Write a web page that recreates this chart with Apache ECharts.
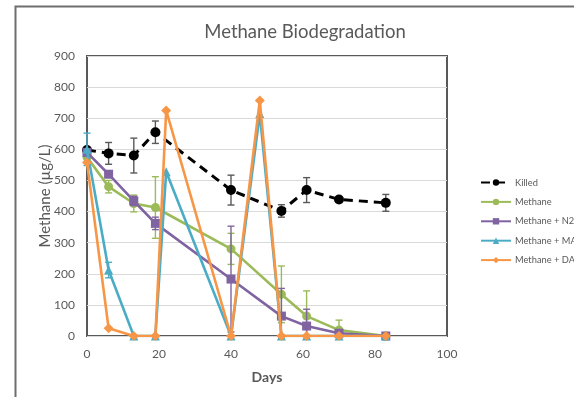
<!DOCTYPE html>
<html>
<head>
<meta charset="utf-8">
<script src="https://cdn.jsdelivr.net/npm/echarts@6/dist/echarts.min.js"></script>
<style>
  html, body { margin: 0; padding: 0; background: #ffffff; }
  #chart { width: 574px; height: 397px; }
</style>
</head>
<body>
<div id="chart"></div>
<script>
// Sampling days
const daysA = [0, 6, 13, 19, 40, 54, 61, 70, 83];
const daysB = [0, 6, 13, 19, 22, 40, 48, 54, 61, 70, 83];

// Methane concentration (µg/L) and standard deviations
const killed     = [598, 587, 580, 655, 469, 402, 469, 439, 428];
const killedErr  = [0, 35, 56, 36, 48, 20, 40, 0, 27];
const methane    = [575, 480, 426, 413, 280, 134, 64, 19, 0];
const methaneErr = [0, 20, 27, 99, 50, 91, 81, 32, 0];
const n2o        = [590, 520, 434, 362, 183, 64, 32, 9, 0];
const n2oErr     = [0, 10, 15, 20, 170, 89, 54, 10, 0];
const ma         = [600, 212, 0, 0, 528, 0, 715, 0, 0, 0, 0];
const maErr      = [52, 25, 0, 0, 0, 0, 0, 0, 0, 0, 0];
const dap        = [558, 25, 0, 0, 725, 0, 757, 0, 0, 0, 0];

const names = ['Killed', 'Methane', 'Methane + N2O', 'Methane + MA', 'Methane + DAP'];
const colors = ['#000000', '#9BBB59', '#8064A2', '#4BACC6', '#F79646'];

const FONT = 'Lato, "Liberation Sans", sans-serif';
const GRAY = '#595959';

function pairs(xs, ys) { return xs.map((x, i) => [x, ys[i]]); }

function errorBars(name, xs, ys, errs, color, z) {
  return {
    name: name + ' error',
    type: 'custom',
    z: z,
    silent: true,
    data: xs.map((x, i) => [x, ys[i], errs[i]]).filter(d => d[2] > 0),
    renderItem: function (params, api) {
      const x = api.value(0), y = api.value(1), e = api.value(2);
      const top = api.coord([x, y + e]);
      const bot = api.coord([x, Math.max(0, y - e)]);
      const w = 3.5;
      const style = { stroke: color, lineWidth: 1.4 };
      return {
        type: 'group',
        children: [
          { type: 'line', shape: { x1: top[0], y1: top[1], x2: bot[0], y2: bot[1] }, style: style },
          { type: 'line', shape: { x1: top[0] - w, y1: top[1], x2: top[0] + w, y2: top[1] }, style: style },
          { type: 'line', shape: { x1: bot[0] - w, y1: bot[1], x2: bot[0] + w, y2: bot[1] }, style: style }
        ]
      };
    }
  };
}

function lineSeries(name, xs, ys, color, symbol, size, z, dashed) {
  return {
    name: name,
    type: 'line',
    z: z,
    data: pairs(xs, ys),
    symbol: symbol,
    symbolSize: size,
    showAllSymbol: true,
    itemStyle: { color: color, borderWidth: 0 },
    lineStyle: { color: color, width: dashed ? 3 : 2.6, type: dashed ? [9, 6] : 'solid' },
    emphasis: { disabled: true },
    animation: false
  };
}

const chart = echarts.init(document.getElementById('chart'), null, { renderer: 'canvas' });

chart.setOption({
  animation: false,
  backgroundColor: '#ffffff',
  title: {
    text: 'Methane Biodegradation',
    left: 300, top: 18, textAlign: 'center',
    textStyle: { fontFamily: FONT, fontSize: 18.5, fontWeight: 'normal', color: GRAY }
  },
  graphic: [{
    type: 'rect',
    shape: { x: 15.5, y: 6.5, width: 600, height: 420 },
    style: { fill: 'none', stroke: '#6e6e6e', lineWidth: 2 },
    z: 0
  }],
  legend: {
    data: names,
    orient: 'vertical',
    left: 475, top: 173,
    itemWidth: 30, itemHeight: 8,
    itemGap: 10.4,
    textStyle: { fontFamily: FONT, fontSize: 9.3, color: GRAY, padding: [0, 0, 0, -1] },
    selectedMode: false
  },
  grid: {
    left: 87, right: 127, top: 56, bottom: 61,
    show: true, borderColor: GRAY, borderWidth: 2, backgroundColor: 'transparent'
  },
  xAxis: {
    type: 'value', min: 0, max: 100, interval: 20,
    name: 'Days', nameLocation: 'middle', nameGap: 34,
    nameTextStyle: { fontFamily: FONT, fontSize: 14, fontWeight: 'bold', color: GRAY },
    axisLine: { show: false },
    axisTick: { show: false },
    splitLine: { show: false },
    axisLabel: { fontFamily: FONT, fontSize: 12, color: GRAY, margin: 12 }
  },
  yAxis: {
    type: 'value', min: 0, max: 900, interval: 100,
    name: 'Methane (µg/L)', nameLocation: 'middle', nameGap: 34,
    nameMoveOverlap: false,
    nameTextStyle: { fontFamily: FONT, fontSize: 15, color: GRAY },
    axisLine: { show: false },
    axisTick: { show: false },
    splitLine: { lineStyle: { color: '#d9d9d9', width: 1 } },
    axisLabel: { fontFamily: FONT, fontSize: 12, color: GRAY, margin: 12 }
  },
  series: [
    errorBars('Killed', daysA, killed, killedErr, '#595959', 3),
    lineSeries('Killed', daysA, killed, colors[0], 'circle', 10, 4, true),
    errorBars('Methane', daysA, methane, methaneErr, colors[1], 5),
    lineSeries('Methane', daysA, methane, colors[1], 'circle', 9, 6, false),
    errorBars('Methane + N2O', daysA, n2o, n2oErr, colors[2], 7),
    lineSeries('Methane + N2O', daysA, n2o, colors[2], 'rect', 9, 8, false),
    errorBars('Methane + MA', daysB, ma, maErr, colors[3], 9),
    lineSeries('Methane + MA', daysB, ma, colors[3], 'triangle', 9, 10, false),
    lineSeries('Methane + DAP', daysB, dap, colors[4], 'diamond', 10, 11, false)
  ]
});
</script>
</body>
</html>
